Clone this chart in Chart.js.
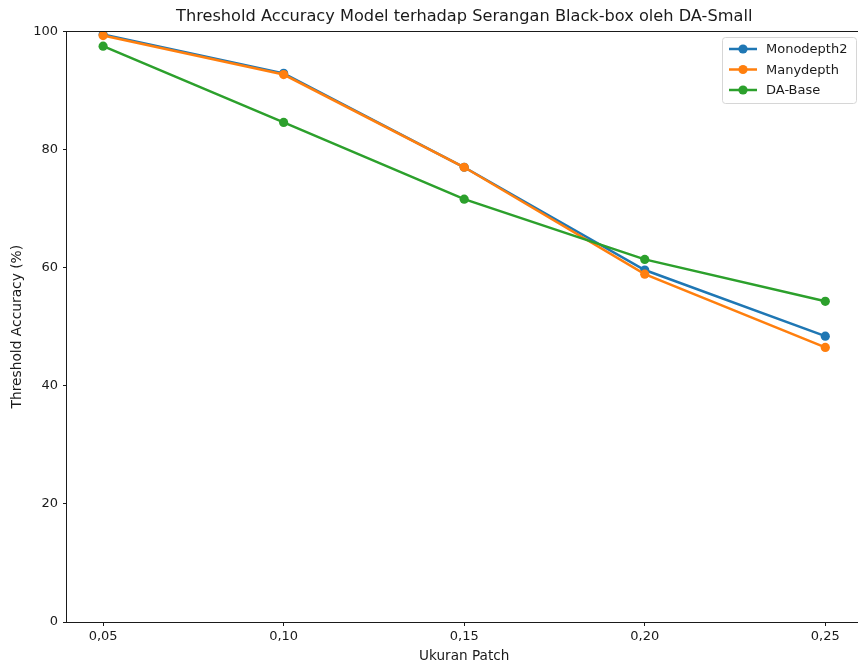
<!DOCTYPE html>
<html>
<head>
<meta charset="utf-8">
<script src="https://cdn.jsdelivr.net/npm/chart.js@4/dist/chart.umd.min.js"></script>
<style>
  html, body { margin: 0; padding: 0; background: #fff; overflow: hidden; }
  #wrap { width: 866px; height: 666px; }
</style>
</head>
<body>
<div id="wrap"><canvas id="c" width="866" height="666"></canvas></div>
<script>
// Patch sizes (x) and threshold accuracy (%) per model
const patchSizes = [0.05, 0.10, 0.15, 0.20, 0.25];
const monodepth2 = [99.5, 92.9, 77.0, 59.6, 48.4];
const manydepth  = [99.3, 92.7, 77.0, 58.9, 46.5];
const daBase     = [97.5, 84.6, 71.6, 61.4, 54.3];
const yTicks = [0, 20, 40, 60, 80, 100];
const seriesNames = ['Monodepth2', 'Manydepth', 'DA-Base'];
const seriesColors = ['#1f77b4', '#ff7f0e', '#2ca02c'];

const FONT = 'DejaVu Sans';

function pts(vals) { return patchSizes.map((x, i) => ({ x: x, y: vals[i] })); }

// Matplotlib-style legend: line segment with a marker in the middle
const lineLegend = {
  id: 'lineLegend',
  afterDraw(chart) {
    const ctx = chart.ctx;
    const ds = chart.data.datasets;
    const x0 = 722, y0 = 37, w = 134, h = 66;
    ctx.save();
    ctx.fillStyle = 'rgba(255,255,255,0.8)';
    ctx.strokeStyle = '#d6d6d6';
    ctx.lineWidth = 1;
    ctx.beginPath();
    ctx.roundRect(x0 + 0.5, y0 + 0.5, w, h, 3);
    ctx.fill();
    ctx.stroke();
    ctx.font = '13px "' + FONT + '"';
    ctx.textBaseline = 'middle';
    ds.forEach((d, i) => {
      const cy = y0 + 12 + i * 20.5;
      ctx.strokeStyle = d.borderColor;
      ctx.lineWidth = 2.5;
      ctx.beginPath();
      ctx.moveTo(x0 + 7, cy);
      ctx.lineTo(x0 + 35, cy);
      ctx.stroke();
      ctx.fillStyle = d.borderColor;
      ctx.beginPath();
      ctx.arc(x0 + 21, cy, 4.6, 0, Math.PI * 2);
      ctx.fill();
      ctx.fillStyle = '#1a1a1a';
      ctx.fillText(d.label, x0 + 44, cy + 1);
    });
    ctx.restore();
  }
};

// Full box around the plot area
const frame = {
  id: 'frame',
  afterDatasetsDraw(chart) {
    const a = chart.chartArea, ctx = chart.ctx;
    ctx.save();
    ctx.strokeStyle = '#1a1a1a';
    ctx.lineWidth = 1;
    ctx.strokeRect(Math.round(a.left) - 0.5, Math.round(a.top) + 0.5,
                   Math.round(a.right - a.left) + 1, Math.round(a.bottom - a.top));
    ctx.restore();
  }
};

const values = [monodepth2, manydepth, daBase];
const datasets = seriesNames.map((name, i) => ({
  label: name,
  data: pts(values[i]),
  borderColor: seriesColors[i],
  backgroundColor: seriesColors[i],
  pointBackgroundColor: seriesColors[i],
  pointBorderColor: seriesColors[i],
  borderWidth: 2.5,
  pointRadius: 4.6,
  pointBorderWidth: 0,
  tension: 0,
  order: 3 - i
}));

new Chart(document.getElementById('c'), {
  type: 'line',
  data: { datasets },
  plugins: [frame, lineLegend],
  options: {
    responsive: false,
    animation: false,
    devicePixelRatio: 1,
    layout: { padding: 0 },
    plugins: {
      legend: { display: false },
      tooltip: { enabled: false },
      title: {
        display: true,
        fullSize: false,
        text: 'Threshold Accuracy Model terhadap Serangan Black-box oleh DA-Small',
        color: '#1a1a1a',
        font: { family: FONT, size: 16.2, weight: 'normal' },
        padding: { top: 7, bottom: 5 }
      }
    },
    scales: {
      x: {
        type: 'linear',
        min: 0.04,
        max: 0.26,
        afterBuildTicks(scale) { scale.ticks = patchSizes.map(v => ({ value: v })); },
        afterFit(scale) { scale.height = 44; },
        ticks: {
          color: '#1a1a1a',
          font: { family: FONT, size: 13 },
          padding: 3,
          callback: v => v.toFixed(2).replace('.', ',')
        },
        grid: { display: true, drawOnChartArea: false, drawTicks: true, tickLength: 4, color: '#1a1a1a', tickWidth: 1 },
        border: { display: false },
        title: {
          display: true, text: 'Ukuran Patch', color: '#1a1a1a',
          font: { family: FONT, size: 13.6 }, padding: { top: 2, bottom: 1 }
        }
      },
      y: {
        type: 'linear',
        min: 0,
        max: 100,
        afterBuildTicks(scale) { scale.ticks = yTicks.map(v => ({ value: v })); },
        afterFit(scale) { scale.width = 67; },
        ticks: {
          color: '#1a1a1a',
          font: { family: FONT, size: 13 },
          padding: 5
        },
        grid: { display: true, drawOnChartArea: false, drawTicks: true, tickLength: 4, color: '#1a1a1a', tickWidth: 1 },
        border: { display: false },
        title: {
          display: true, text: 'Threshold Accuracy (%)', color: '#1a1a1a',
          font: { family: FONT, size: 13.8 }, padding: { top: 9, bottom: 4 }
        }
      }
    }
  }
});
</script>
</body>
</html>
